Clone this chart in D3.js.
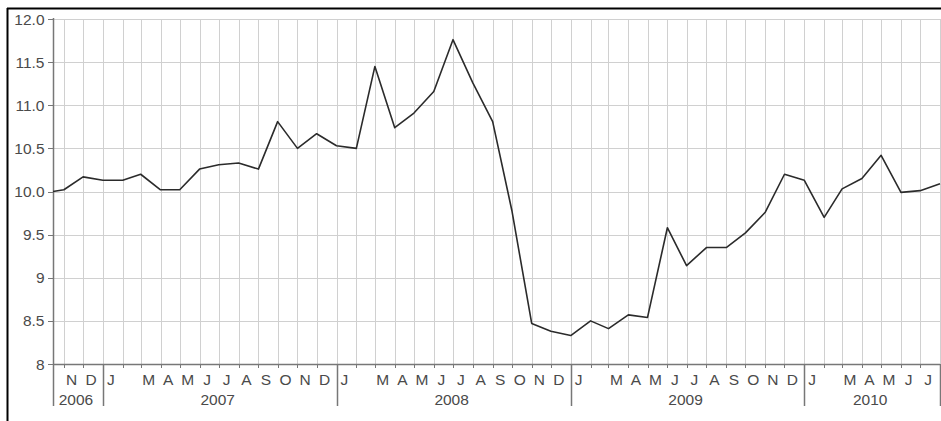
<!DOCTYPE html>
<html>
<head>
<meta charset="utf-8">
<script src="https://cdn.jsdelivr.net/npm/d3@7"></script>
<style>
  body { margin: 0; background: #fff; }
  text { font-family: "Liberation Sans", Arial, sans-serif; fill: #4a4a4a; }
</style>
</head>
<body>
<div id="chart"></div>
<script>
// monthly series, first point is a partial month
const dates = ["2006-10-15", "2006-11-01", "2006-12-01",
  "2007-01-01", "2007-02-01", "2007-03-01", "2007-04-01", "2007-05-01", "2007-06-01",
  "2007-07-01", "2007-08-01", "2007-09-01", "2007-10-01", "2007-11-01", "2007-12-01",
  "2008-01-01", "2008-02-01", "2008-03-01", "2008-04-01", "2008-05-01", "2008-06-01",
  "2008-07-01", "2008-08-01", "2008-09-01", "2008-10-01", "2008-11-01", "2008-12-01",
  "2009-01-01", "2009-02-01", "2009-03-01", "2009-04-01", "2009-05-01", "2009-06-01",
  "2009-07-01", "2009-08-01", "2009-09-01", "2009-10-01", "2009-11-01", "2009-12-01",
  "2010-01-01", "2010-02-01", "2010-03-01", "2010-04-01", "2010-05-01", "2010-06-01",
  "2010-07-01", "2010-08-01"];
const values = [10.00, 10.02, 10.17,
  10.13, 10.13, 10.20, 10.02, 10.02, 10.26,
  10.31, 10.33, 10.26, 10.81, 10.50, 10.67,
  10.53, 10.50, 11.45, 10.74, 10.91, 11.16,
  11.76, 11.26, 10.81, 9.78, 8.47, 8.38,
  8.33, 8.50, 8.41, 8.57, 8.54, 9.58,
  9.14, 9.35, 9.35, 9.52, 9.76, 10.20,
  10.13, 9.70, 10.03, 10.15, 10.42, 9.99,
  10.01, 10.09];
const yTicks = [8, 8.5, 9, 9.5, 10, 10.5, 11, 11.5, 12];
const yTickLabels = ["8", "8.5", "9", "9.5", "10.0", "10.5", "11.0", "11.5", "12.0"];
const monthLetters = ["J", "", "M", "A", "M", "J", "J", "A", "S", "O", "N", "D"]; // no F
const years = [2006, 2007, 2008, 2009, 2010];

const width = 941, height = 421;
const margin = { left: 53, right: 940, top: 19, bottom: 364 };
const fontSize = 15.5;

const parse = d3.utcParse("%Y-%m-%d");
const data = dates.map((d, i) => ({ date: parse(d), value: values[i] }));
const start = data[0].date, end = data[data.length - 1].date;

const x = d3.scaleUtc().domain([start, end]).range([margin.left, margin.right]);
const y = d3.scaleLinear().domain([8, 12]).range([margin.bottom, margin.top]);

const svg = d3.select("#chart").append("svg")
  .attr("width", width)
  .attr("height", height);

// frame
svg.append("line").attr("x1", 7).attr("x2", width).attr("y1", 8.5).attr("y2", 8.5)
  .attr("stroke", "#000").attr("stroke-width", 2);
svg.append("line").attr("x1", 7.5).attr("x2", 7.5).attr("y1", 8).attr("y2", height)
  .attr("stroke", "#000").attr("stroke-width", 2);

const monthStarts = d3.utcMonth.range(d3.utcMonth.ceil(start), d3.utcDay.offset(end, 1));

// grid
svg.append("g").selectAll("line").data(yTicks).join("line")
  .attr("x1", margin.left).attr("x2", margin.right)
  .attr("y1", d => Math.round(y(d)) + 0.5).attr("y2", d => Math.round(y(d)) + 0.5)
  .attr("stroke", "#d0d0d0");
svg.append("g").selectAll("line").data(monthStarts).join("line")
  .attr("x1", d => Math.round(x(d)) + 0.5).attr("x2", d => Math.round(x(d)) + 0.5)
  .attr("y1", margin.top).attr("y2", margin.bottom)
  .attr("stroke", "#d0d0d0");

// y axis
const axisColor = "#777";
svg.append("line").attr("x1", margin.left + 0.5).attr("x2", margin.left + 0.5)
  .attr("y1", margin.top - 1).attr("y2", 406)
  .attr("stroke", axisColor).attr("stroke-width", 1.5);
svg.append("g").selectAll("line").data(yTicks).join("line")
  .attr("x1", margin.left - 5).attr("x2", margin.left)
  .attr("y1", d => Math.round(y(d)) + 0.5).attr("y2", d => Math.round(y(d)) + 0.5)
  .attr("stroke", axisColor);
svg.append("g").selectAll("text").data(yTicks).join("text")
  .attr("x", margin.left - 8.5).attr("y", d => y(d))
  .attr("dy", "0.36em")
  .attr("text-anchor", "end")
  .attr("font-size", fontSize)
  .text((d, i) => yTickLabels[i]);

// x axis
svg.append("line").attr("x1", margin.left).attr("x2", margin.right)
  .attr("y1", margin.bottom + 0.5).attr("y2", margin.bottom + 0.5)
  .attr("stroke", axisColor).attr("stroke-width", 1.5);
svg.append("g").selectAll("line").data(monthStarts).join("line")
  .attr("x1", d => Math.round(x(d)) + 0.5).attr("x2", d => Math.round(x(d)) + 0.5)
  .attr("y1", margin.bottom).attr("y2", margin.bottom + 4)
  .attr("stroke", axisColor);

// month letters
svg.append("g").selectAll("text").data(monthStarts.slice(0, -1)).join("text")
  .attr("x", d => (x(d) + x(d3.utcMonth.offset(d, 1))) / 2 - 2)
  .attr("y", 385)
  .attr("text-anchor", "middle")
  .attr("font-size", fontSize)
  .text(d => monthLetters[d.getUTCMonth()]);

// year bands
const yearBands = years.map(yr => ({
  year: yr,
  from: d3.max([start, new Date(Date.UTC(yr, 0, 1))]),
  to: d3.min([end, new Date(Date.UTC(yr + 1, 0, 1))])
}));
svg.append("g").selectAll("line").data(yearBands).join("line")
  .attr("x1", d => Math.round(x(d.to)) + 0.5).attr("x2", d => Math.round(x(d.to)) + 0.5)
  .attr("y1", margin.bottom).attr("y2", 406)
  .attr("stroke", axisColor).attr("stroke-width", 1.5);
svg.append("g").selectAll("text").data(yearBands).join("text")
  .attr("x", d => (x(d.from) + x(d.to)) / 2 - 2)
  .attr("y", 404.5)
  .attr("text-anchor", "middle")
  .attr("font-size", fontSize)
  .text(d => d.year);

// series
const line = d3.line().x(d => x(d.date)).y(d => y(d.value));
svg.append("path").datum(data)
  .attr("d", line)
  .attr("fill", "none")
  .attr("stroke", "#2b2b2b")
  .attr("stroke-width", 1.6)
  .attr("stroke-linejoin", "round");
</script>
</body>
</html>
